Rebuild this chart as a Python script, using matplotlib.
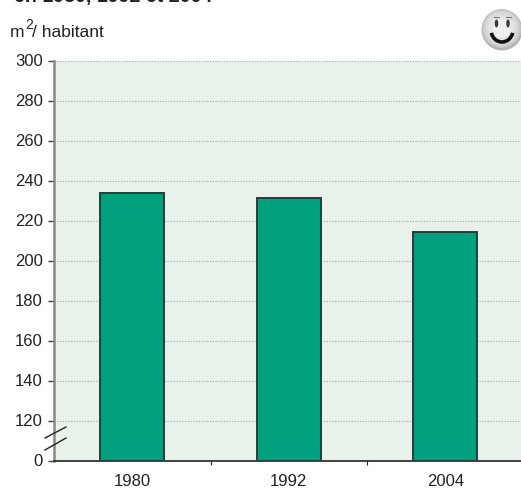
import matplotlib
matplotlib.use('Agg')
import matplotlib.pyplot as plt
from matplotlib.patches import Circle, Ellipse, Arc

years = ['1980', '1992', '2004']
surface = [234, 231.5, 214.5]
# axis is broken: the bottom tick (drawn at 100) reads 0
y_ticks = [100, 120, 140, 160, 180, 200, 220, 240, 260, 280, 300]
y_labels = ['0', '120', '140', '160', '180', '200', '220', '240', '260', '280', '300']
title = 'en 1980, 1992 et 2004'

W, H = 521, 488
plt.rcParams['font.family'] = ['Liberation Sans', 'DejaVu Sans']
size = 12

fig = plt.figure(figsize=(W / 100, H / 100), dpi=100)
ax = fig.add_axes([54 / W, (H - 460.5) / H, (W - 54) / W, 400 / H])
ax.set_facecolor('#e8f2eb')

x = list(range(len(years)))
ax.bar(x, [v - 100 for v in surface], width=64 / 156.5, bottom=100, color='#00a07f', edgecolor='#24403a', linewidth=1.4, zorder=3)
ax.set_xlim(-0.5, 2.484)
ax.set_ylim(100, 300)

ax.set_yticks(y_ticks)
ax.set_yticklabels(y_labels, fontsize=size, color='#222222')
ax.set_xticks(x)
ax.set_xticklabels(years, fontsize=size, color='#222222')
ax.tick_params(axis='x', length=0, pad=10)
ax.set_xticks([0.5, 1.5], minor=True)
ax.tick_params(axis='x', which='minor', length=3, width=0.8, color='#222222', direction='out')
ax.tick_params(axis='y', length=4, width=1, color='#444444', pad=4)

ax.grid(axis='y', linestyle=(0, (1, 1.5)), color='#a0a59c', linewidth=0.8, zorder=1)
ax.set_axisbelow(True)
for s in ['top', 'right']:
    ax.spines[s].set_visible(False)
ax.spines['left'].set_color('#888888')
ax.spines['left'].set_linewidth(1.8)
ax.spines['bottom'].set_color('#222222')
ax.spines['bottom'].set_linewidth(1.2)

# full-figure overlay in pixel coords, y down
ov = fig.add_axes([0, 0, 1, 1], facecolor='none')
ov.set_xlim(0, W)
ov.set_ylim(H, 0)
ov.axis('off')

ov.plot([45, 66], [438, 427], color='#222222', lw=1)
ov.plot([45, 66], [450, 438], color='#222222', lw=1)

ov.text(14, 2, title, fontsize=14.1, fontweight='bold', color='#222222', va='baseline')
ov.text(10, 37, 'm', fontsize=12.5, color='#222222', va='baseline')
ov.text(25, 29, '2', fontsize=10, color='#222222', va='baseline')
ov.text(32, 37, '/ habitant', fontsize=12.5, color='#222222', va='baseline')

# smiley
ov.add_patch(Circle((502, 30), 20.5, color='#b5b5b5', lw=0))
for r, c in [(19.5, '#c4c4c4'), (18, '#d2d2d2'), (16, '#dcdcdc'), (13, '#e6e6e6'), (9, '#efefef')]:
    ov.add_patch(Circle((501.5, 28.5), r, color=c, lw=0))
ov.add_patch(Ellipse((496.5, 23.5), 3.5, 8, color='#3a3a3a', lw=0))
ov.add_patch(Ellipse((508, 23.5), 3.5, 8, color='#3a3a3a', lw=0))
ov.add_patch(Arc((502, 30), 22, 24, theta1=15, theta2=165, color='#111111', lw=2.6))
ov.plot([494, 499], [16.5, 16.5], color='#777777', lw=0.8)
ov.plot([506, 511], [16.5, 16.5], color='#777777', lw=0.8)

fig.savefig('out.png', dpi=100)
